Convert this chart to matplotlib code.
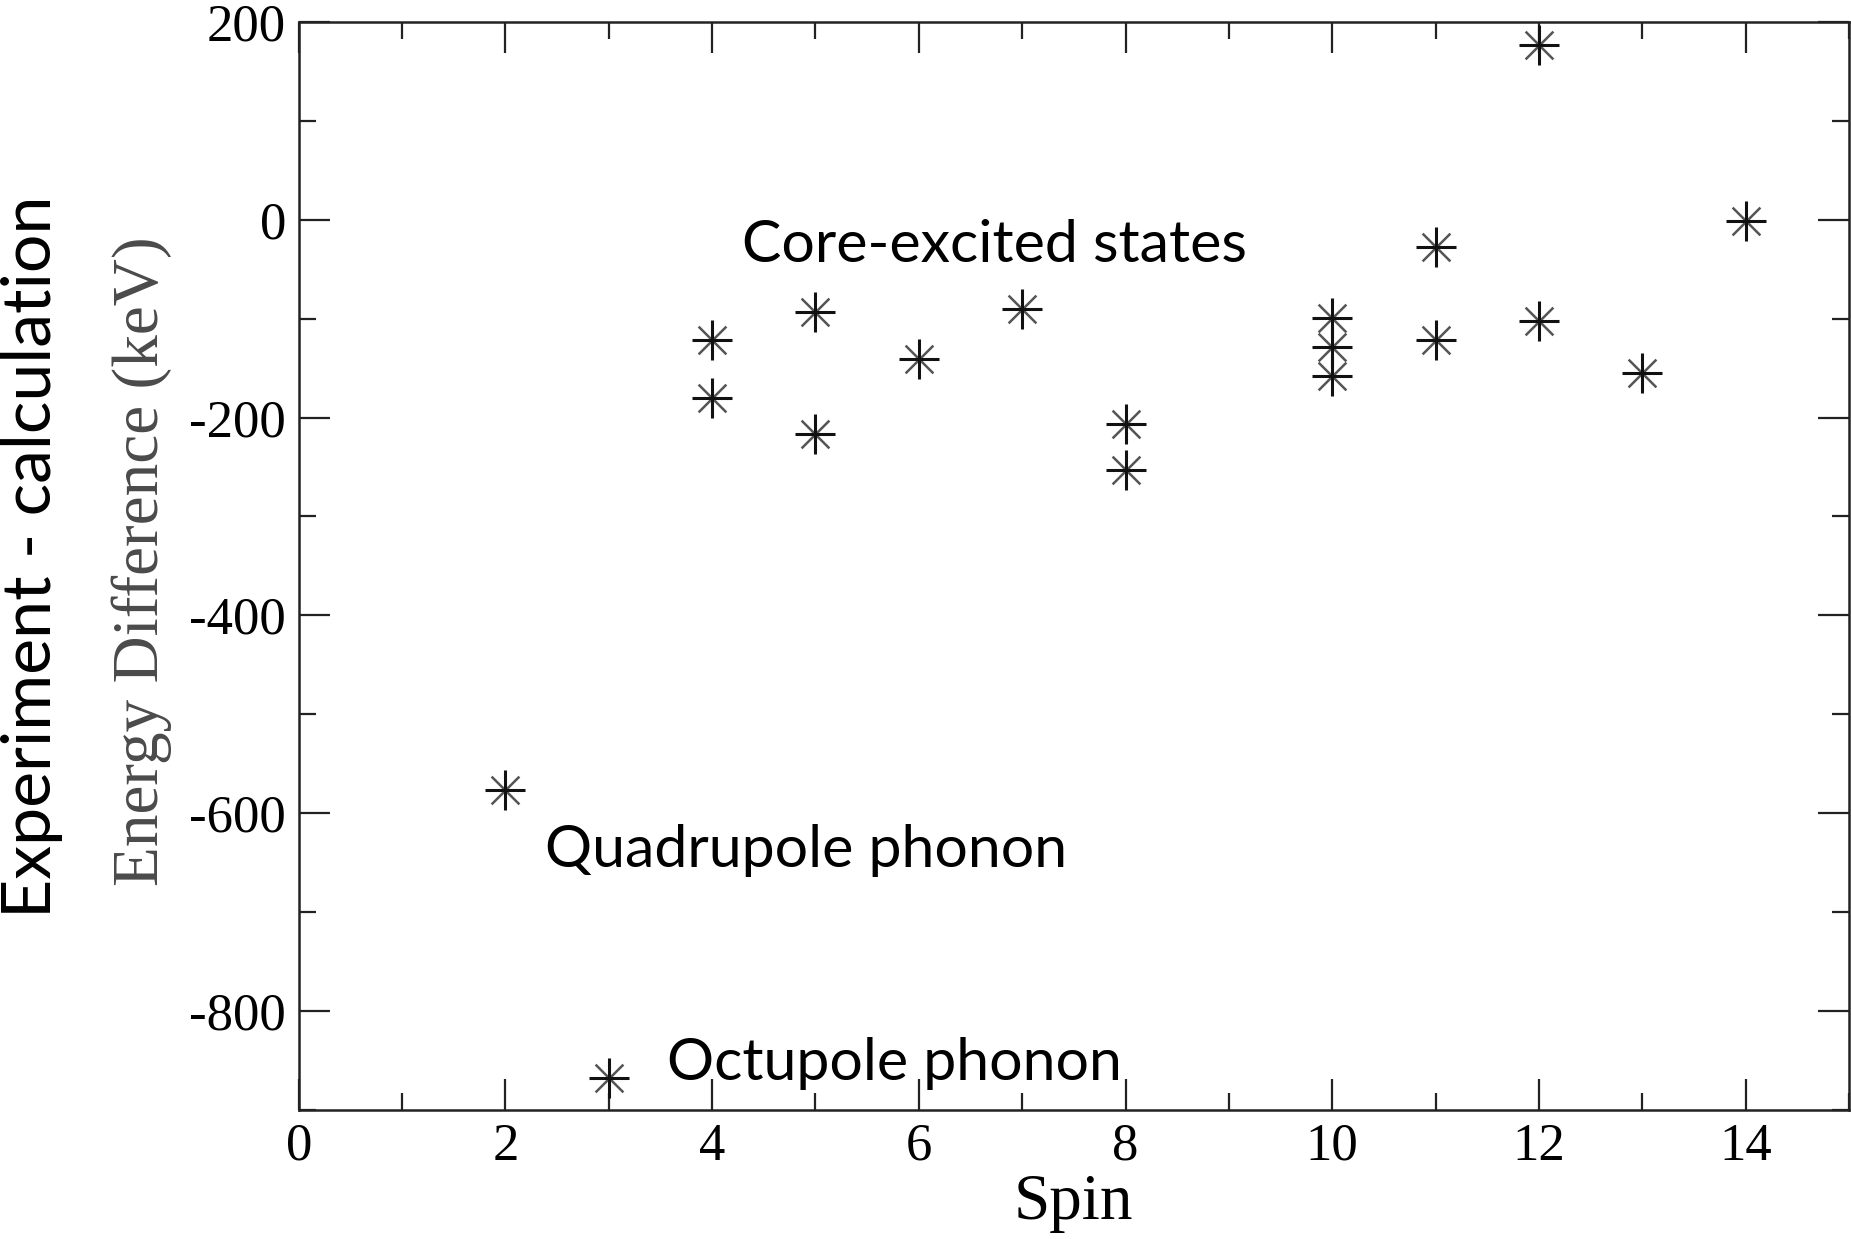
import matplotlib
matplotlib.use("Agg")
import matplotlib.pyplot as plt
from matplotlib.ticker import MultipleLocator

plt.rcParams["axes.unicode_minus"] = False

# Experiment minus calculation energy differences per spin
spin = [2, 3, 4, 4, 5, 5, 6, 7, 8, 8, 10, 10, 10, 11, 11, 12, 12, 13, 14]
energy_diff = [-577, -868, -122, -180, -93, -217, -141, -90, -207, -253,
               -99, -129, -158, -28, -122, 177, -102, -155, -1]

x_ticks = [0, 2, 4, 6, 8, 10, 12, 14]
y_ticks = [200, 0, -200, -400, -600, -800]

annotations = [
    ("Core-excited states", 4.29, -26),
    ("Quadrupole phonon", 2.38, -638),
    ("Octupole phonon", 3.56, -853),
]

W, H = 1851, 1239
fig = plt.figure(figsize=(W / 100, H / 100), dpi=100)
ax = fig.add_axes([298.7 / W, 1 - 1110 / H, (1849 - 298.7) / W, (1110 - 21.8) / H])

serif = ["Liberation Serif", "DejaVu Serif"]

# eight-armed asterisk markers: bold cross plus lighter diagonals
ax.scatter(spin, energy_diff, marker="+", s=29 ** 2, linewidths=2.2,
           color="#111111", zorder=3)
ax.scatter(spin, energy_diff, marker="x", s=20 ** 2, linewidths=1.8,
           color="#555555", zorder=2)

ax.set_xlim(0, 15)
ax.set_ylim(-900, 200)
ax.set_xticks(x_ticks)
ax.set_yticks(y_ticks)
ax.xaxis.set_minor_locator(MultipleLocator(1))
ax.yaxis.set_minor_locator(MultipleLocator(100))

for s in ax.spines.values():
    s.set_linewidth(1.8)
    s.set_color("#222222")

ax.tick_params(which="both", direction="in", top=True, right=True,
               width=1.6, color="#222222")
ax.tick_params(which="major", length=22, labelsize=38, pad=9)
ax.tick_params(which="minor", length=12)
for lab in ax.get_xticklabels() + ax.get_yticklabels():
    lab.set_family(serif)

ax.set_xlabel("Spin", family=serif, fontsize=47, labelpad=2)
fig.text(142 / W, 1 - 561 / H, "Energy Difference (keV)", family=serif,
         fontsize=47, color="#4a4a4a", rotation=90, ha="center", va="center")

fig.text(32 / W, 1 - 557 / H, "Experiment - calculation", family=["Lato", "DejaVu Sans"],
         fontsize=49, rotation=90, ha="center", va="center")

for label, x, y in annotations:
    ax.text(x, y, label, family=["Lato", "DejaVu Sans"], fontsize=42.5,
            ha="left", va="center", zorder=4)

fig.savefig("out.png", dpi=100)
